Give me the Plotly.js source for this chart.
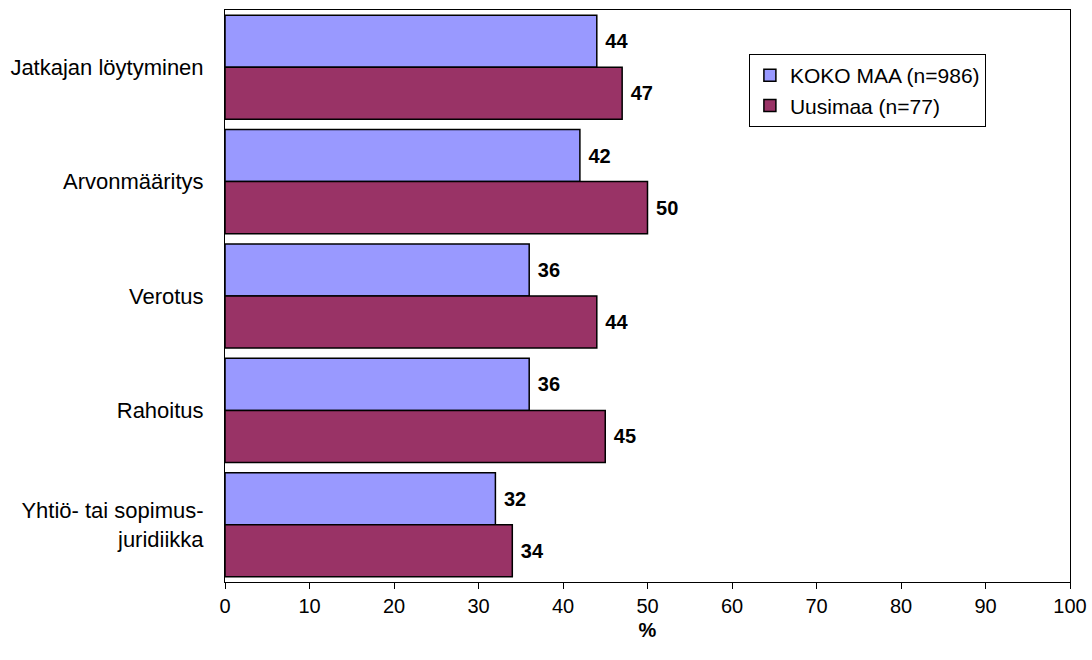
<!DOCTYPE html>
<html>
<head>
<meta charset="utf-8">
<script src="https://cdn.plot.ly/plotly-3.0.1.min.js"></script>
<style>html,body{margin:0;padding:0;background:#fff;}#chart{width:1092px;height:660px;}</style>
</head>
<body>
<div id="chart"></div>
<script>
const categories = ["Jatkajan löytyminen", "Arvonmääritys", "Verotus", "Rahoitus", "Yhtiö- tai sopimus-<br>juridiikka"];
const kokoMaa = [44, 42, 36, 36, 32];
const uusimaa = [47, 50, 44, 45, 34];
const seriesNames = ["KOKO MAA (n=986)", "Uusimaa (n=77)"];
const xTicks = [0, 10, 20, 30, 40, 50, 60, 70, 80, 90, 100];

const font = "Liberation Sans, Arial, sans-serif";
function trace(vals, name, color) {
  return {
    type: "bar", orientation: "h", y: categories, x: vals, name: name,
    marker: {color: color, line: {color: "#000", width: 1.5}},
    text: vals.map(v => " " + v), textposition: "outside", cliponaxis: false,
    constraintext: "none",
    textfont: {family: font, size: 20, color: "#000", weight: "bold"},
    hoverinfo: "x+name"
  };
}
const data = [trace(kokoMaa, seriesNames[0], "#9999FF"), trace(uusimaa, seriesNames[1], "#993366")];
const layout = {
  width: 1092, height: 660,
  margin: {l: 225, r: 22, t: 10, b: 78},
  paper_bgcolor: "#fff", plot_bgcolor: "#fff",
  barmode: "group", bargap: 0.09, bargroupgap: 0,
  font: {family: font, size: 19, color: "#000"},
  xaxis: {
    range: [0, 100], tickvals: xTicks, ticktext: xTicks.map(String),
    showgrid: false, zeroline: false, showline: true, linecolor: "#000", linewidth: 1,
    mirror: true, ticks: "outside", ticklen: 6, tickcolor: "#000",
    tickfont: {family: font, size: 20},
    title: {text: "%", font: {family: font, size: 20, weight: "bold"}, standoff: 6}
  },
  yaxis: {
    type: "category", autorange: "reversed",
    showgrid: false, zeroline: false, showline: true, linecolor: "#000", linewidth: 1,
    mirror: true, ticks: "", ticklabelstandoff: 16,
    tickfont: {family: font, size: 22}
  },
  legend: {
    x: 0.62, y: 0.923, xanchor: "left", yanchor: "top",
    bordercolor: "#000", borderwidth: 1, bgcolor: "#fff",
    font: {family: font, size: 21}, traceorder: "normal",
    itemwidth: 30
  },
  showlegend: true
};
Plotly.newPlot("chart", data, layout, {displayModeBar: false, staticPlot: true});
</script>
</body>
</html>
